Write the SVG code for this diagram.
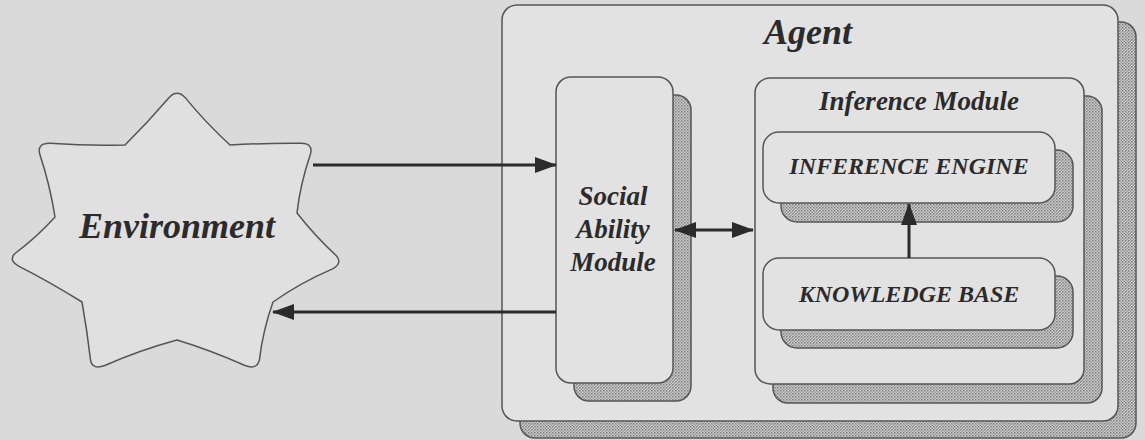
<svg xmlns="http://www.w3.org/2000/svg" width="1145" height="440" viewBox="0 0 1145 440">
  <defs>
    <pattern id="stipple" width="3" height="3" patternUnits="userSpaceOnUse">
      <rect width="3" height="3" fill="#cdcdcd"/>
      <rect x="0" y="0" width="1.5" height="1.5" fill="#7c7c7c"/>
      <rect x="1.5" y="1.5" width="1.5" height="1.5" fill="#9a9a9a"/>
    </pattern>
    <marker id="ah" viewBox="0 0 22 16" refX="21" refY="8" markerWidth="22" markerHeight="16" markerUnits="userSpaceOnUse" orient="auto-start-reverse">
      <path d="M0,0 L22,8 L0,16 Z" fill="#2b2b2b"/>
    </marker>
  </defs>
  <style>
    .box { fill: #e2e2e2; stroke: #555; stroke-width: 1.5; }
    .shadow { fill: url(#stipple); stroke: #555; stroke-width: 1.5; }
    .lbl { font-family: 'Liberation Serif', 'Times New Roman', Tinos, 'DejaVu Serif', serif; font-weight: 700; font-style: italic; fill: #2b2b2b; text-anchor: middle; }
    .conn { stroke: #2b2b2b; stroke-width: 3; fill: none; }
  </style>
  <rect width="1145" height="440" fill="#dadada"/>

  <g id="environment">
    <path d="M 169.2,97.4 Q 177,89 185,97.4 Q 205,122 230,145 Q 265,143 300.5,143.3 Q 313,143 310.6,153.5 Q 300,185 297,213 Q 315,236 336.1,255.5 Q 343,263 332.5,268.9 Q 300,283 273,302 Q 263,330 259.4,359.8 Q 257,370 245,365.5 Q 210,350 177,340 Q 140,350 104.8,365.5 Q 92,370 90.5,359.8 Q 87,330 82,302 Q 50,282 19.1,266.3 Q 8,260 15,253.5 Q 37,237 55,217 Q 50,185 39.7,154.1 Q 37,143 50.2,143.3 Q 88,146 125,145 Q 148,122 169.2,97.4 Z" fill="#e0e0e0" stroke="#555" stroke-width="1.5" stroke-linejoin="round"/>
    <text class="lbl" x="177" y="238" font-size="36" font-family="Liberation Serif, serif">Environment</text>
  </g>

  <g id="agent">
    <rect class="shadow" x="520" y="22" width="616" height="416" rx="15"/>
    <rect class="box" x="502" y="5" width="616" height="416" rx="15"/>
    <text class="lbl" x="808" y="44" font-size="36">Agent</text>
  </g>

  <g id="social-ability-module">
    <rect class="shadow" x="574" y="95" width="117" height="306" rx="15"/>
    <rect class="box" x="556" y="77" width="117" height="306" rx="15"/>
    <text class="lbl" x="613" y="205" font-size="27">Social</text>
    <text class="lbl" x="613" y="238" font-size="27">Ability</text>
    <text class="lbl" x="613" y="271" font-size="27">Module</text>
  </g>

  <g id="inference-module">
    <rect class="shadow" x="773" y="96" width="329" height="307" rx="15"/>
    <rect class="box" x="755" y="78" width="329" height="306" rx="15"/>
    <text class="lbl" x="919" y="110" font-size="27">Inference Module</text>
  </g>

  <g id="inference-engine">
    <rect class="shadow" x="781" y="150" width="292" height="72" rx="16"/>
    <rect class="box" x="763" y="132" width="292" height="71" rx="16"/>
    <text class="lbl" x="909" y="174" font-size="24">INFERENCE ENGINE</text>
  </g>

  <g id="knowledge-base">
    <rect class="shadow" x="781" y="276" width="292" height="72" rx="16"/>
    <rect class="box" x="763" y="258" width="292" height="72" rx="16"/>
    <text class="lbl" x="909" y="302" font-size="24">KNOWLEDGE BASE</text>
  </g>

  <g id="connectors">
    <line class="conn" x1="313" y1="165" x2="556" y2="165" marker-end="url(#ah)"/>
    <line class="conn" x1="556" y1="312" x2="273" y2="312" marker-end="url(#ah)"/>
    <line class="conn" x1="675" y1="230" x2="753" y2="230" marker-start="url(#ah)" marker-end="url(#ah)"/>
    <line class="conn" x1="909" y1="258" x2="909" y2="204" marker-end="url(#ah)"/>
  </g>
</svg>
